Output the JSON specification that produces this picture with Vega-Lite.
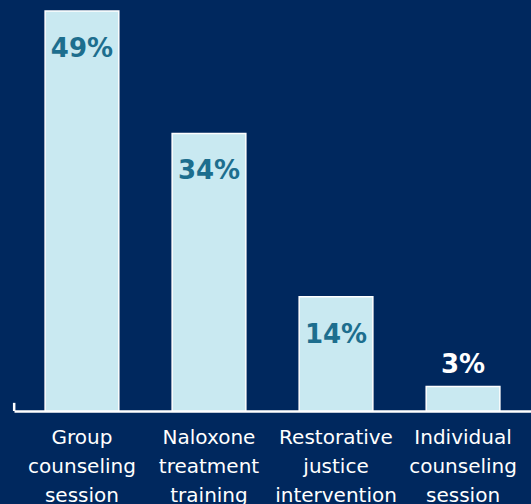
{
  "$schema": "https://vega.github.io/schema/vega-lite/v6.json",
  "width": 517,
  "height": 400,
  "autosize": {"type": "none"},
  "padding": {"top": 11, "left": 14, "right": 0, "bottom": 93},
  "background": "#00285e",
  "data": {
    "values": [
      {"activity": "Group counseling session", "pct": 49},
      {"activity": "Naloxone treatment training", "pct": 34},
      {"activity": "Restorative justice intervention", "pct": 14},
      {"activity": "Individual counseling session", "pct": 3}
    ]
  },
  "transform": [{"calculate": "datum.pct + '%'", "as": "label"}],
  "encoding": {
    "x": {
      "field": "activity",
      "type": "nominal",
      "sort": null,
      "scale": {"paddingInner": 0.42, "paddingOuter": 0.245},
      "axis": {
        "title": null,
        "labelAngle": 0,
        "labelExpr": "split(datum.label, ' ')",
        "labelFont": "DejaVu Sans",
        "labelFontSize": 20,
        "labelColor": "#ffffff",
        "labelLineHeight": 29,
        "labelPadding": 16,
        "labelBaseline": "top",
        "domainColor": "#ffffff",
        "domainWidth": 2.5,
        "ticks": false
      }
    },
    "y": {
      "field": "pct",
      "type": "quantitative",
      "scale": {"domain": [0, 49], "nice": false},
      "axis": null
    }
  },
  "layer": [
    {
      "mark": {"type": "bar", "color": "#c9e9f1", "stroke": "#ffffff", "strokeWidth": 1.5}
    },
    {
      "transform": [{"filter": "datum.pct >= 10"}],
      "mark": {
        "type": "text",
        "font": "DejaVu Sans",
        "fontWeight": "bold",
        "fontSize": 26,
        "color": "#1d6e8e",
        "baseline": "middle",
        "dy": 38
      },
      "encoding": {"text": {"field": "label", "type": "nominal"}}
    },
    {
      "transform": [{"filter": "datum.pct < 10"}],
      "mark": {
        "type": "text",
        "font": "DejaVu Sans",
        "fontWeight": "bold",
        "fontSize": 26,
        "color": "#ffffff",
        "baseline": "middle",
        "dy": -22
      },
      "encoding": {"text": {"field": "label", "type": "nominal"}}
    },
    {
      "description": "short end tick at the left end of the baseline",
      "transform": [{"filter": "datum.activity === 'Group counseling session'"}],
      "mark": {"type": "rule", "color": "#ffffff", "strokeWidth": 2.5},
      "encoding": {
        "x": {"field": "activity", "type": "nominal", "sort": null, "bandPosition": -0.42},
        "y": {"datum": 0},
        "y2": {"datum": 1}
      }
    }
  ],
  "config": {"view": {"stroke": null}}
}
